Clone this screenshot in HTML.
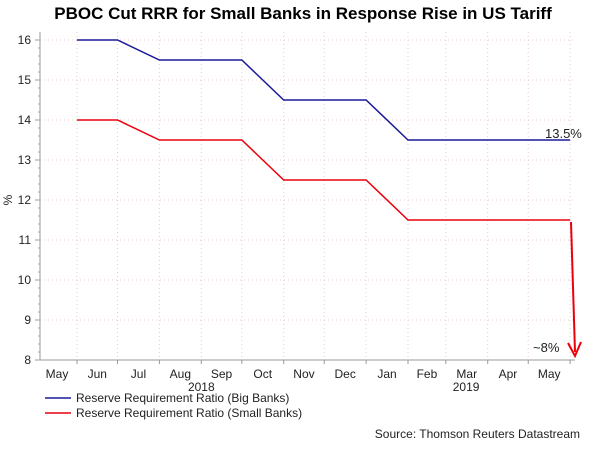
<!DOCTYPE html>
<html><head><meta charset="utf-8"><style>
body{margin:0;background:#fff;}
svg{display:block;font-family:"Liberation Sans",sans-serif;}
</style></head><body>
<svg id="chart" width="600" height="450">
<text x="303" y="19" text-anchor="middle" font-size="17" font-weight="bold" fill="#000">PBOC Cut RRR for Small Banks in Response Rise in US Tariff</text>
<g id="grid"></g><g id="axes"></g><g id="series"></g>
<text x="12" y="200" font-size="12" fill="#222" transform="rotate(-90 12 200)" text-anchor="middle">%</text>
<text x="545" y="138" font-size="13" fill="#222">13.5%</text>
<text x="533" y="352" font-size="13" fill="#222">~8%</text>
<line x1="571" y1="222" x2="575" y2="352" stroke="#e8000b" stroke-width="2"/>
<polyline points="568,343 575,356 581,342" fill="none" stroke="#e8000b" stroke-width="2"/>
<g>
<line x1="45" y1="398" x2="71" y2="398" stroke="#1a1a9a" stroke-width="1.5"/>
<text x="76" y="402" font-size="12" fill="#222">Reserve Requirement Ratio (Big Banks)</text>
<line x1="45" y1="413" x2="71" y2="413" stroke="#e8000b" stroke-width="1.5"/>
<text x="76" y="417" font-size="12" fill="#222">Reserve Requirement Ratio (Small Banks)</text>
</g>
<text x="580" y="438" text-anchor="end" font-size="12" fill="#222">Source: Thomson Reuters Datastream</text>
</svg>
<script>
const dates=["2018-06-01","2018-07-01","2018-08-01","2018-09-01","2018-10-01","2018-11-01","2018-12-01","2019-01-01","2019-02-01","2019-03-01","2019-04-01","2019-05-01","2019-06-01"];
const bigBanks=[16,16,15.5,15.5,15.5,14.5,14.5,14.5,13.5,13.5,13.5,13.5,13.5];
const smallBanks=[14,14,13.5,13.5,13.5,12.5,12.5,12.5,11.5,11.5,11.5,11.5,11.5];
const yTicks=[8,9,10,11,12,13,14,15,16];
const monthLabels=["May","Jun","Jul","Aug","Sep","Oct","Nov","Dec","Jan","Feb","Mar","Apr","May"];
const monthStarts=["2018-05-01","2018-06-01","2018-07-01","2018-08-01","2018-09-01","2018-10-01","2018-11-01","2018-12-01","2019-01-01","2019-02-01","2019-03-01","2019-04-01","2019-05-01","2019-06-01"];
const yearLabels=["2018","2019"];
const yearDates=["2018-09-01","2019-03-16"];

const NS="http://www.w3.org/2000/svg";
const ref=Date.UTC(2018,5,1);
function x(d){const t=Date.parse(d+"T00:00:00Z");return 77+(t-ref)/86400000*1.351;}
function y(v){return 40+(16-v)*40;}
const L=40,R=575,T=32,B=360;
function mk(tag,attrs,parent){const e=document.createElementNS(NS,tag);for(const k in attrs)e.setAttribute(k,attrs[k]);parent.appendChild(e);return e;}
const grid=document.getElementById('grid'),axes=document.getElementById('axes'),series=document.getElementById('series');
yTicks.forEach(v=>{
  if(v>8){const g=mk('line',{x1:L,x2:R,y1:y(v),y2:y(v),stroke:'#e8c8c8','stroke-dasharray':'1,3'},grid);
  
  }
  const t=mk('line',{x1:L-5,x2:L,y1:y(v),y2:y(v),stroke:'#999'},axes);
  
  
  const tx=mk('text',{x:L-9,y:y(v)+4,'text-anchor':'end','font-size':12,fill:'#222'},axes);tx.textContent=v;
  
  
});
for(let v=8;v<=16.01;v+=0.2){mk('line',{x1:L-2,x2:L,y1:y(v),y2:y(v),stroke:'#aaa'},axes);}
monthStarts.forEach((d,i)=>{
  const xi=x(d);
  if(xi>L&&xi<=R){const g=mk('line',{x1:xi,x2:xi,y1:T,y2:B,stroke:'#e8c8c8','stroke-dasharray':'1,3'},grid);
  
  
  mk('line',{x1:xi,x2:xi,y1:B,y2:B+4,stroke:'#999'},axes);}
  if(i<monthLabels.length){const mid=(Math.max(x(d),L)+x(monthStarts[i+1]))/2;
  const tx=mk('text',{x:i==0?57:mid,y:B+18,'text-anchor':'middle','font-size':12,fill:'#222'},axes);tx.textContent=monthLabels[i];
  
  }
});
yearLabels.forEach((lab,i)=>{const tx=mk('text',{x:x(yearDates[i]),y:B+31,'text-anchor':'middle','font-size':12,fill:'#222'},axes);tx.textContent=lab;
  
  });
const ax=mk('line',{x1:L,x2:R,y1:B,y2:B,stroke:'#999'},axes);


const ay=mk('line',{x1:L,x2:L,y1:T,y2:B,stroke:'#999'},axes);


function line(vals,color,name){
  const p=mk('polyline',{points:vals.map((v,i)=>x(dates[i])+','+y(v)).join(' '),fill:'none',stroke:color,'stroke-width':1.5},series);
  
  
}
line(bigBanks,'#1a1a9a','big-banks-line');
line(smallBanks,'#e8000b','small-banks-line');
</script>
</body></html>
